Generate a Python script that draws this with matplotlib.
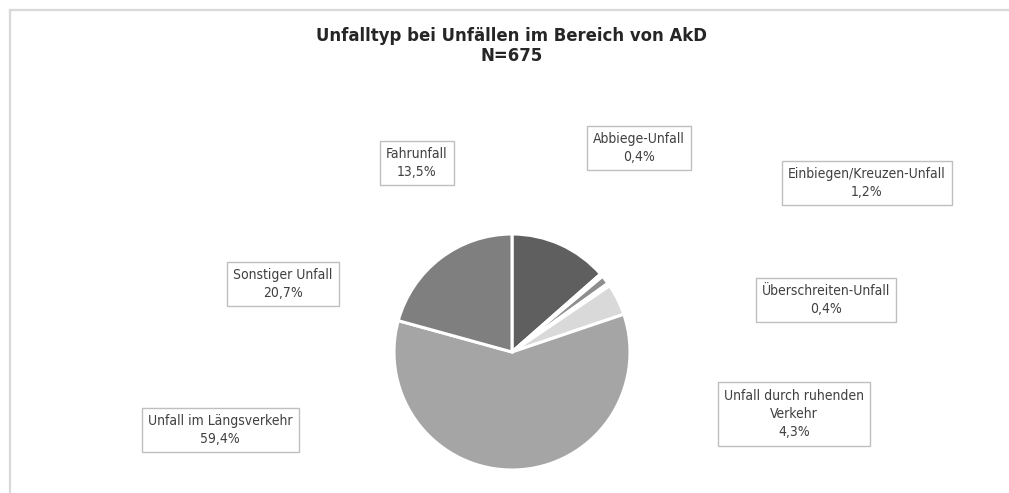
import matplotlib
matplotlib.use("Agg")
import matplotlib.pyplot as plt
from matplotlib.lines import Line2D

plt.rcParams["font.family"] = ["DejaVu Sans"]
plt.rcParams["font.stretch"] = "condensed"

categories = ["Fahrunfall", "Abbiege-Unfall", "Einbiegen/Kreuzen-Unfall",
              "Überschreiten-Unfall", "Unfall durch ruhenden\nVerkehr",
              "Unfall im Längsverkehr", "Sonstiger Unfall"]
shares = [13.5, 0.4, 1.2, 0.4, 4.3, 59.4, 20.7]
colors = ["#5f5f5f", "#c9c9c9", "#8e8e8e", "#bdbdbd", "#d9d9d9", "#a5a5a5", "#7f7f7f"]
title = "Unfalltyp bei Unfällen im Bereich von AkD\nN=675"

# label box centres in figure pixel coordinates (y measured from top)
label_pos = [(417, 163), (639, 148), (867, 183), (826, 300),
             (794, 414), (220, 430), (283, 284)]

W, H = 1009, 493
fig = plt.figure(figsize=(W / 100, H / 100), dpi=100)
ax = fig.add_axes([0, 0, 1, 1])
ax.set_xlim(0, W)
ax.set_ylim(0, H)
ax.set_aspect("equal")
ax.axis("off")

# outer chart frame: only the left and top edges fall inside the image
frame = dict(color="#d9d9d9", linewidth=1.6, zorder=0)
fig.add_artist(Line2D([9.5 / W, 9.5 / W], [0, 1 - 9.5 / H], **frame))
fig.add_artist(Line2D([9.5 / W, 1], [1 - 9.5 / H, 1 - 9.5 / H], **frame))

ax.pie(shares, colors=colors, startangle=90, counterclock=False,
       center=(512, H - 352), radius=118,
       wedgeprops=dict(edgecolor="white", linewidth=2.2))
ax.set_xlim(0, W)
ax.set_ylim(0, H)

for name, val, (px, py) in zip(categories, shares, label_pos):
    txt = f"{name}\n{val:.1f}%".replace(".", ",")
    ax.text(px, H - py, txt, ha="center", va="center", fontsize=10,
            color="#404040", linespacing=1.4, fontstretch="condensed",
            bbox=dict(boxstyle="square,pad=0.45", facecolor="white",
                      edgecolor="#bfbfbf", linewidth=1.0))

ax.text(512, H - 46, title, ha="center", va="center", fontsize=13.2,
        fontweight="bold", fontstretch="condensed", color="#262626",
        linespacing=1.15)

fig.savefig("out.png", dpi=100)
